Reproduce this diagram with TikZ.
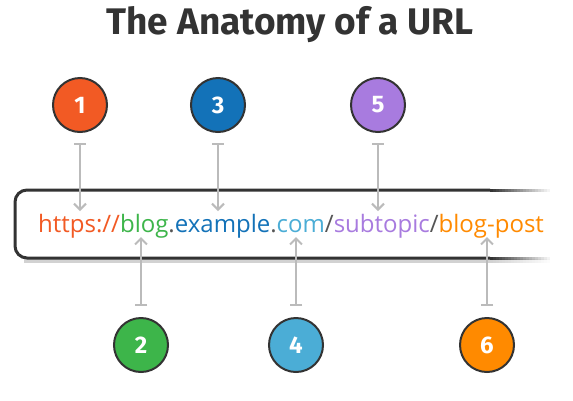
\documentclass[tikz,border=0pt]{standalone}
\usepackage{fontspec}
\setmainfont{Open Sans}
\newfontfamily\titlefont{Fira Sans}
\usetikzlibrary{arrows.meta}
\definecolor{ink}{HTML}{333333}
\definecolor{cA}{HTML}{F25A24}
\definecolor{cB}{HTML}{3DB54A}
\definecolor{cC}{HTML}{1372B8}
\definecolor{cD}{HTML}{4BADD6}
\definecolor{cE}{HTML}{A87BDF}
\definecolor{cF}{HTML}{FF8A00}
\definecolor{sep}{HTML}{555555}
\definecolor{conncol}{HTML}{BBBBBB}
\tikzset{
  badge/.style={circle, draw=ink, line width=2pt, minimum size=54pt, inner sep=0pt,
    text=white, font=\titlefont\bfseries\fontsize{24}{24}\selectfont},
  conn/.style={draw=conncol, line width=2pt, arrows={Bar[width=12pt,line width=2pt]-Straight Barb[length=6pt,width=12pt,line width=2pt]}},
}
\begin{document}
\begin{tikzpicture}[x=1pt,y=-1pt]
\useasboundingbox (0,0) rectangle (573,400);
\fill[white] (0,0) rectangle (573,400);
% title
\node[font=\titlefont\bfseries\fontsize{37}{37}\selectfont, text=ink] (title) at (290,25) {The Anatomy of a URL};
% box shadow
\foreach \i in {0,...,19}{
  \draw[black!35, line width=4pt, opacity={0.5*(1-\i/20)}] ({490+3*\i},261) -- ({493+3*\i},261);
}
\draw[black!35, line width=4pt, opacity=0.5] (24,261) -- (490,261);
% box
\draw[ink, line width=3pt, rounded corners=12pt] (490,190) -- (15,190) -- (15,258) -- (490,258);
\foreach \i in {0,...,19}{
  \draw[ink, line width=3pt, opacity={1-\i/20}] ({490+3*\i},190) -- ({493+3*\i},190);
  \draw[ink, line width=3pt, opacity={1-\i/20}] ({490+3*\i},258) -- ({493+3*\i},258);
}
% url
\node[anchor=base west, inner sep=0pt, font=\fontsize{24}{24}\selectfont] (url) at (38,232)
  {\textcolor{cA}{https://}\textcolor{cB}{blog}\textcolor{sep}{.}\textcolor{cC}{example}\textcolor{sep}{.}\textcolor{cD}{com}\textcolor{sep}{/}\textcolor{cE}{subtopic}\textcolor{sep}{/}\textcolor{cF}{blog-post}};
% badges
\node[badge, fill=cA] (b1) at (80,105) {1};
\node[badge, fill=cC] (b3) at (218,105) {3};
\node[badge, fill=cE] (b5) at (378,105) {5};
\node[badge, fill=cB] (b2) at (141,345) {2};
\node[badge, fill=cD] (b4) at (296,345) {4};
\node[badge, fill=cF] (b6) at (487,345) {6};
% connector ends
\coordinate (t1) at (80,143);  \coordinate (h1) at (80,211);
\coordinate (t3) at (218,143); \coordinate (h3) at (218,211);
\coordinate (t5) at (378,143); \coordinate (h5) at (378,211);
\coordinate (t2) at (141,306); \coordinate (h2) at (141,237);
\coordinate (t4) at (296,306); \coordinate (h4) at (296,237);
\coordinate (t6) at (487,306); \coordinate (h6) at (487,237);
\foreach \k in {1,...,6}{ \draw[conn] (t\k) -- (h\k); }
\end{tikzpicture}
\end{document}
